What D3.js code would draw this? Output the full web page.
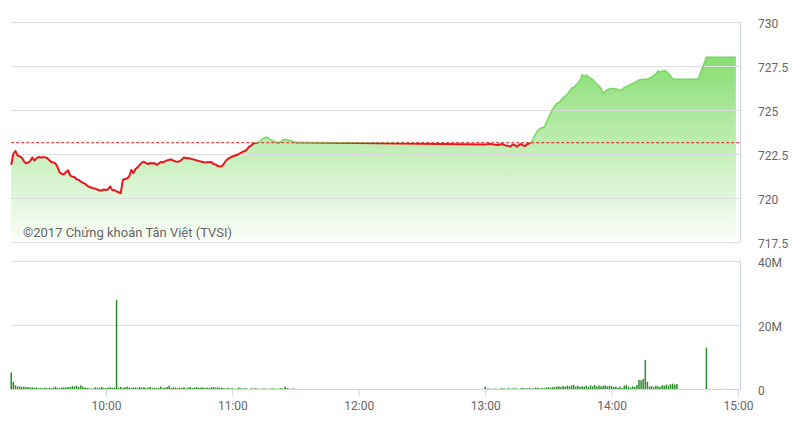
<!DOCTYPE html>
<html><head><meta charset="utf-8">
<script src="https://cdn.jsdelivr.net/npm/d3@7"></script>
<style>body{margin:0;background:#fff}svg{display:block;font-family:Roboto,"Noto Sans",sans-serif}</style>
</head><body>
<svg id="c" width="800" height="425"></svg>
<script>
// ---------- data ----------
const refPrice = 723.15;
const priceTicks = [717.5, 720, 722.5, 725, 727.5, 730];
const volTicks = [0, 20, 40];               // millions
const timeTicks = ["10:00", "11:00", "12:00", "13:00", "14:00", "15:00"];
const watermark = "©2017 Chứng khoán Tân Việt (TVSI)";

// morning session: one value per minute from 09:15 to 11:30
const morningStart = "09:15";
const morningPrices = [
  721.89,722.51,722.68,722.43,722.37,722.31,722.11,721.98,722.03,722.11,
  722.31,722.14,722.26,722.34,722.31,722.32,722.32,722.28,722.17,722.06,
  722.03,721.97,721.77,721.46,721.38,721.35,721.49,721.58,721.29,721.22,
  721.21,721.08,721.04,720.95,720.87,720.82,720.72,720.64,720.61,720.57,
  720.54,720.48,720.44,720.44,720.50,720.47,720.51,720.67,720.47,720.46,
  720.38,720.34,720.28,721.04,721.09,721.12,721.23,721.60,721.43,721.66,
  721.75,721.89,722.02,722.07,721.99,721.94,722.00,721.97,722.00,721.89,
  721.96,722.06,722.03,722.09,722.15,722.18,722.20,722.13,722.09,722.07,
  722.10,722.20,722.31,722.27,722.28,722.24,722.22,722.18,722.15,722.11,
  722.09,722.06,722.02,722.05,722.04,722.06,721.94,721.92,721.83,721.80,
  721.82,721.97,722.14,722.24,722.30,722.37,722.41,722.45,722.51,722.58,
  722.64,722.68,722.78,722.93,722.99,723.10,723.15,723.16,723.22,723.33,
  723.42,723.46,723.43,723.33,723.26,723.22,723.17,723.16,723.22,723.31,
  723.33,723.32,723.28,723.25,723.20,723.17
];
// afternoon session: one value per minute from 13:00 to 14:29
const afternoonStart = "13:00";
const afternoonPrices = [
  723.05,723.07,723.09,723.07,723.05,723.03,723.02,723.05,723.08,723.03,
  722.99,722.96,722.94,723.05,723.02,722.92,723.02,723.08,722.99,722.97,
  723.08,723.11,723.19,723.42,723.67,723.84,723.96,724.00,724.04,724.30,
  724.55,724.82,725.04,725.23,725.39,725.42,725.58,725.72,725.79,725.90,
  726.08,726.24,726.29,726.42,726.54,726.68,727.02,726.91,726.98,726.89,
  726.81,726.74,726.60,726.47,726.38,726.23,725.94,726.06,726.16,726.20,
  726.23,726.23,726.20,726.17,726.11,726.17,726.28,726.33,726.40,726.46,
  726.51,726.57,726.63,726.71,726.73,726.75,726.74,726.77,726.81,726.88,
  726.97,727.05,727.22,727.16,727.22,727.23,727.21,727.08,726.94,726.77
];
const closeTimes = ["14:41", "14:45", "14:59"];
const closePrices = [726.75, 728.00, 728.00];

// volumes (millions), one per minute
const morningVolumes = [
  5.3,2.4,1.3,0.9,1.0,0.8,0.9,0.7,0.8,0.6,
  0.7,0.5,0.6,0.4,0.5,0.4,0.6,0.4,0.5,0.4,
  0.6,0.9,0.5,0.4,0.6,0.7,0.6,0.8,0.7,1.1,
  0.9,1.2,0.8,1.3,0.9,0.6,0.5,0.4,0.3,0.4,
  0.7,0.5,0.6,0.8,0.5,0.4,0.6,0.7,0.5,0.6,
  27.8,0.6,0.8,0.5,0.7,0.9,0.6,0.5,0.7,0.6,
  0.5,0.8,0.6,0.7,0.5,0.6,0.8,0.5,0.6,0.4,
  0.5,0.9,0.5,0.6,0.8,1.2,0.5,0.7,0.6,0.5,
  0.6,0.5,0.7,0.4,0.6,0.7,0.5,0.6,0.8,0.5,
  0.6,0.7,0.5,0.6,0.5,0.7,0.8,0.6,0.7,0.5,
  0.6,0.4,0.3,0.5,0.3,0.4,0.2,0.3,0.6,0.4,
  0.3,0.4,0.3,0.2,0.4,0.3,0.4,0.3,0.2,0.3,
  0.4,0.3,0.2,0.3,0.4,0.3,0.2,0.3,0.4,0.3,
  0.9,0.4,0.3,0.2,0.3,0.2
];
const afternoonVolumes = [
  0.9,0.3,0.3,0.2,0.3,0.3,0.2,0.3,0.4,0.3,
  0.2,0.4,0.3,0.3,0.4,0.3,0.2,0.4,0.5,0.3,
  0.4,0.5,0.3,0.4,0.6,0.5,0.3,0.5,0.4,0.6,
  0.7,0.6,0.8,0.7,0.9,1.0,0.8,1.1,0.9,1.2,
  1.0,1.3,1.4,0.9,1.2,0.8,1.0,0.9,1.1,0.8,
  1.3,1.0,1.4,0.9,1.2,1.0,1.1,1.3,1.0,1.2,
  1.1,0.8,0.9,0.6,0.9,0.5,1.2,1.4,0.9,0.6,
  1.0,0.8,1.4,3.0,2.9,3.3,9.2,2.4,0.9,1.1,
  0.7,1.2,1.0,0.8,1.3,1.1,1.5,1.2,1.6,1.8,
  1.5,1.7
];
const closeVolTimes = ["14:45", "14:49", "14:52", "14:55"];
const closeVolumes = [13.0, 0.2, 0.2, 0.2];

// ---------- build ----------
const parse = d3.timeParse("%H:%M");
const seq = (start, arr) => arr.map((v, i) => ({t: d3.timeMinute.offset(parse(start), i), v}));
const prices = seq(morningStart, morningPrices)
  .concat(seq(afternoonStart, afternoonPrices))
  .concat(closeTimes.map((t, i) => ({t: parse(t), v: closePrices[i]})));
const volumes = seq(morningStart, morningVolumes)
  .concat(seq(afternoonStart, afternoonVolumes))
  .concat(closeVolTimes.map((t, i) => ({t: parse(t), v: closeVolumes[i]})));

const svg = d3.select("#c");
const L = 11.2, R = 740;
const x = d3.scaleTime().domain([parse("09:15"), parse("15:00")]).range([L, 738]);
const yP = d3.scaleLinear().domain([717.5, 730]).range([242.3, 22]);
const yV = d3.scaleLinear().domain([0, 40]).range([389.5, 260.7]);

const defs = svg.append("defs");
const grad = defs.append("linearGradient").attr("id", "g")
  .attr("gradientUnits", "userSpaceOnUse").attr("x1", 0).attr("x2", 0)
  .attr("y1", yP(728.5)).attr("y2", yP(717.5));
grad.append("stop").attr("offset", 0).attr("stop-color", "#82dc6c");
grad.append("stop").attr("offset", 0.55).attr("stop-color", "#c6efbb");
grad.append("stop").attr("offset", 1).attr("stop-color", "#fbfefa");
defs.append("clipPath").attr("id", "above").append("rect")
  .attr("x", 0).attr("y", 0).attr("width", 800).attr("height", yP(refPrice));
defs.append("clipPath").attr("id", "below").append("rect")
  .attr("x", 0).attr("y", yP(refPrice)).attr("width", 800).attr("height", 300);

// area
svg.append("path").datum(prices)
  .attr("fill", "url(#g)")
  .attr("d", d3.area().x(d => x(d.t)).y0(yP(717.5)).y1(d => yP(d.v)));

// grid lines (price)
svg.append("g").selectAll("line").data(priceTicks).join("line")
  .attr("x1", L).attr("x2", R)
  .attr("y1", d => Math.round(yP(d)) + 0.5).attr("y2", d => Math.round(yP(d)) + 0.5)
  .attr("stroke", "#dedede").attr("stroke-width", 1);
// grid lines (volume)
svg.append("g").selectAll("line").data(volTicks.filter(d => d > 0)).join("line")
  .attr("x1", L).attr("x2", R)
  .attr("y1", d => Math.round(yV(d)) + 0.5).attr("y2", d => Math.round(yV(d)) + 0.5)
  .attr("stroke", "#dedede").attr("stroke-width", 1);

// right borders
svg.append("line").attr("x1", R + 0.5).attr("x2", R + 0.5).attr("y1", yP(730)).attr("y2", yP(717.5))
  .attr("stroke", "#ccd6eb");
svg.append("line").attr("x1", R + 0.5).attr("x2", R + 0.5).attr("y1", yV(40)).attr("y2", yV(0))
  .attr("stroke", "#ccd6eb");

// reference line
svg.append("line").attr("x1", L).attr("x2", R)
  .attr("y1", yP(refPrice)).attr("y2", yP(refPrice))
  .attr("stroke", "#e5161d").attr("stroke-width", 1).attr("stroke-dasharray", "3,2");

// price line
const line = d3.line().x(d => x(d.t)).y(d => yP(d.v));
svg.append("path").datum(prices).attr("clip-path", "url(#above)")
  .attr("fill", "none").attr("stroke", "#78d662").attr("stroke-width", 1.5)
  .attr("stroke-linejoin", "round").attr("d", line);
svg.append("path").datum(prices).attr("clip-path", "url(#below)")
  .attr("fill", "none").attr("stroke", "#e5161d").attr("stroke-width", 2)
  .attr("stroke-linejoin", "round").attr("d", line);

// watermark
svg.append("text").attr("x", 23).attr("y", 236.5)
  .attr("font-size", 13).attr("fill", "#666").text(watermark);

// volume bars
svg.append("g").selectAll("rect").data(volumes).join("rect")
  .attr("x", d => x(d.t) - 0.75).attr("width", 1.5)
  .attr("y", d => yV(d.v)).attr("height", d => yV(0) - yV(d.v))
  .attr("fill", "#2a8d2a");

// x axis
svg.append("line").attr("x1", L).attr("x2", R + 1).attr("y1", 389.5).attr("y2", 389.5).attr("stroke", "#ccd6eb");
const xa = svg.append("g").attr("transform", "translate(0,389.5)")
  .call(d3.axisBottom(x).tickValues(timeTicks.map(parse)).tickFormat(d3.timeFormat("%H:%M"))
    .tickSize(7).tickSizeOuter(0).tickPadding(5));
xa.select(".domain").remove();
xa.selectAll("line").attr("stroke", "#ccd6eb");
xa.selectAll("text").attr("font-size", 12).attr("fill", "#666").attr("font-family", "Roboto, sans-serif");

// price axis labels
const pa = svg.append("g").attr("transform", "translate(758,1.5)")
  .call(d3.axisRight(yP).tickValues(priceTicks).tickSize(0).tickPadding(0).tickFormat(d => String(d)));
pa.select(".domain").remove();
pa.selectAll("text").attr("font-size", 12).attr("fill", "#666").attr("font-family", "Roboto, sans-serif");

// volume axis labels
const va = svg.append("g").attr("transform", "translate(758,1.5)")
  .call(d3.axisRight(yV).tickValues(volTicks).tickSize(0).tickPadding(0).tickFormat(d => d === 0 ? "0" : d + "M"));
va.select(".domain").remove();
va.selectAll("text").attr("font-size", 12).attr("fill", "#666").attr("font-family", "Roboto, sans-serif");
</script>
</body></html>
